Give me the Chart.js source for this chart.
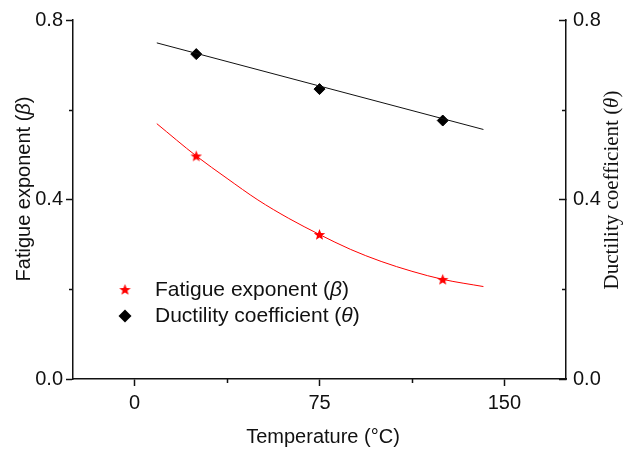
<!DOCTYPE html>
<html>
<head>
<meta charset="utf-8">
<script src="https://cdn.jsdelivr.net/npm/chart.js@4/dist/chart.umd.min.js"></script>
<style>
  html, body { margin: 0; padding: 0; background: #fff; }
  #wrap { width: 629px; height: 449px; }
</style>
</head>
<body>
<div id="wrap"><canvas id="fatigue" width="629" height="449"></canvas></div>
<script>
// measured points
var temps = [25, 75, 125];
var betaVals = [0.497, 0.322, 0.222];
var thetaVals = [0.724, 0.646, 0.576];

// fitted curves
var fitTemps = [9, 25, 37.5, 50, 62.5, 75, 87.5, 100, 112.5, 125, 141.5];
var betaFit = [0.569, 0.497, 0.447, 0.399, 0.358, 0.322, 0.289, 0.262, 0.240, 0.222, 0.206];
var thetaFitTemps = [9, 141.5];
var thetaFit = [0.749, 0.556];

// axes
var xTicks = [0, 37.5, 75, 112.5, 150];
var xTickLabels = ['0', '', '75', '', '150'];
var yTicks = [0, 0.2, 0.4, 0.6, 0.8];
var yTickLabels = ['0.0', '', '0.4', '', '0.8'];

function pts(xs, ys) {
    return xs.map(function (x, i) { return { x: x, y: ys[i] }; });
}

// small filled five point star for the beta markers
var star = document.createElement('canvas');
star.width = 13; star.height = 13;
(function () {
    var c = star.getContext('2d');
    c.fillStyle = '#ff0000';
    c.beginPath();
    for (var k = 0; k < 10; k++) {
        var r = k % 2 === 0 ? 6 : 2.6;
        var a = -Math.PI / 2 + k * Math.PI / 5;
        var px = 6.5 + r * Math.cos(a), py = 7 + r * Math.sin(a);
        if (k === 0) c.moveTo(px, py); else c.lineTo(px, py);
    }
    c.closePath();
    c.fill();
})();

var ink = '#111';
var sans = '"Liberation Sans", Arial, sans-serif';
var serif = '"Liberation Serif", "Times New Roman", serif';

function setFont(ctx, italic, size, family) {
    ctx.font = (italic ? 'italic ' : '') + size + 'px ' + family;
}

function mixed(ctx, parts, size, family, x, y, centred) {
    var w = 0;
    parts.forEach(function (p) {
        setFont(ctx, p[1], size, family);
        w += ctx.measureText(p[0]).width;
    });
    var cx = centred ? x - w / 2 : x;
    parts.forEach(function (p) {
        setFont(ctx, p[1], size, family);
        ctx.fillText(p[0], cx, y);
        cx += ctx.measureText(p[0]).width;
    });
}

function isMinor(labels, ticks, v) {
    return labels[ticks.indexOf(v)] === '';
}

var decorations = {
    id: 'decorations',
    afterDraw: function (chart) {
        var ctx = chart.ctx;
        var sx = chart.scales.x, sy = chart.scales.y, sy2 = chart.scales.y2;
        ctx.save();

        // short minor ticks
        ctx.strokeStyle = ink;
        ctx.lineWidth = 1.5;
        ctx.beginPath();
        xTicks.forEach(function (v, i) {
            if (xTickLabels[i] !== '') return;
            var px = Math.round(sx.getPixelForValue(v)) + 0.5;
            ctx.moveTo(px, sx.top); ctx.lineTo(px, sx.top + 4);
        });
        yTicks.forEach(function (v, i) {
            if (yTickLabels[i] !== '') return;
            var py = Math.round(sy.getPixelForValue(v)) + 0.5;
            ctx.moveTo(sy.right, py); ctx.lineTo(sy.right - 4, py);
            ctx.moveTo(sy2.left, py); ctx.lineTo(sy2.left - 4, py);
        });
        ctx.stroke();

        ctx.fillStyle = ink;
        ctx.textBaseline = 'middle';
        ctx.textAlign = 'left';

        // x title
        mixed(ctx, [['Temperature (\u00B0C)', false]], 20, sans, 323, 437, true);

        // left title
        ctx.save();
        ctx.translate(24, 189);
        ctx.rotate(-Math.PI / 2);
        mixed(ctx, [['Fatigue exponent (', false], ['\u03B2', true], [')', false]], 20, sans, 0, 0, true);
        ctx.restore();

        // right title
        ctx.save();
        ctx.translate(612, 190);
        ctx.rotate(-Math.PI / 2);
        mixed(ctx, [['Ductility coefficient (', false], ['\u03B8', true], [')', false]], 21, serif, 0, 0, true);
        ctx.restore();

        // legend
        ctx.drawImage(star, 125 - 6.5, 290 - 7);
        ctx.fillStyle = '#000';
        ctx.beginPath();
        ctx.moveTo(125, 316 - 6.5); ctx.lineTo(131.5, 316); ctx.lineTo(125, 316 + 6.5); ctx.lineTo(118.5, 316);
        ctx.closePath();
        ctx.fill();
        ctx.fillStyle = ink;
        mixed(ctx, [['Fatigue exponent (', false], ['\u03B2', true], [')', false]], 21, sans, 155, 290, false);
        mixed(ctx, [['Ductility coefficient (', false], ['\u03B8', true], [')', false]], 21, sans, 155, 316, false);
        ctx.restore();
    }
};

function axisStyle(labels, ticks, tickLength) {
    return {
        border: { display: true, color: ink, width: 1.5 },
        grid: {
            display: true,
            drawOnChartArea: false,
            drawTicks: true,
            tickLength: tickLength,
            color: ink,
            tickWidth: 1.5,
            tickColor: function (c) {
                return c.tick && isMinor(labels, ticks, c.tick.value) ? 'rgba(0,0,0,0)' : ink;
            }
        }
    };
}

function noPad(s) {
    s.paddingTop = 0; s.paddingBottom = 0; s.paddingLeft = 0; s.paddingRight = 0;
}

var chart = new Chart(document.getElementById('fatigue').getContext('2d'), {
    type: 'scatter',
    data: {
        datasets: [{
            label: 'beta fit',
            data: pts(fitTemps, betaFit),
            showLine: true,
            borderColor: '#ff0000',
            borderWidth: 1,
            pointRadius: 0,
            cubicInterpolationMode: 'monotone',
            yAxisID: 'y'
        }, {
            label: 'theta fit',
            data: pts(thetaFitTemps, thetaFit),
            showLine: true,
            borderColor: '#111',
            borderWidth: 1,
            pointRadius: 0,
            yAxisID: 'y2'
        }, {
            label: 'Fatigue exponent (\u03B2)',
            data: pts(temps, betaVals),
            pointStyle: star,
            pointRadius: 6,
            yAxisID: 'y'
        }, {
            label: 'Ductility coefficient (\u03B8)',
            data: pts(temps, thetaVals),
            pointStyle: 'rectRot',
            pointRadius: 5.5,
            backgroundColor: '#000',
            borderColor: '#000',
            borderWidth: 1,
            yAxisID: 'y2'
        }]
    },
    options: {
        responsive: false,
        animation: false,
        layout: { padding: { top: 20, left: 0, right: 0, bottom: 0 } },
        plugins: { legend: { display: false }, tooltip: { enabled: false } },
        scales: {
            x: Object.assign({
                type: 'linear',
                min: -25,
                max: 175,
                afterBuildTicks: function (s) { s.ticks = xTicks.map(function (v) { return { value: v }; }); },
                afterFit: function (s) { s.height = 70; noPad(s); },
                ticks: {
                    color: ink,
                    font: { family: sans, size: 20 },
                    padding: 5,
                    maxRotation: 0,
                    callback: function (v) { return xTickLabels[xTicks.indexOf(v)]; }
                }
            }, axisStyle(xTickLabels, xTicks, 7)),
            y: Object.assign({
                position: 'left',
                min: 0,
                max: 0.8,
                afterBuildTicks: function (s) { s.ticks = yTicks.map(function (v) { return { value: v }; }); },
                afterFit: function (s) { s.width = 73; noPad(s); },
                ticks: {
                    color: ink,
                    font: { family: sans, size: 20 },
                    padding: 3,
                    callback: function (v) { return yTickLabels[yTicks.indexOf(v)]; }
                }
            }, axisStyle(yTickLabels, yTicks, 7)),
            y2: Object.assign({
                position: 'right',
                min: 0,
                max: 0.8,
                afterBuildTicks: function (s) { s.ticks = yTicks.map(function (v) { return { value: v }; }); },
                afterFit: function (s) { s.width = 63; noPad(s); },
                ticks: {
                    color: ink,
                    font: { family: sans, size: 20 },
                    padding: 14,
                    callback: function (v) { return yTickLabels[yTicks.indexOf(v)]; }
                }
            }, axisStyle(yTickLabels, yTicks, -7))
        }
    },
    plugins: [decorations]
});
</script>
</body>
</html>
